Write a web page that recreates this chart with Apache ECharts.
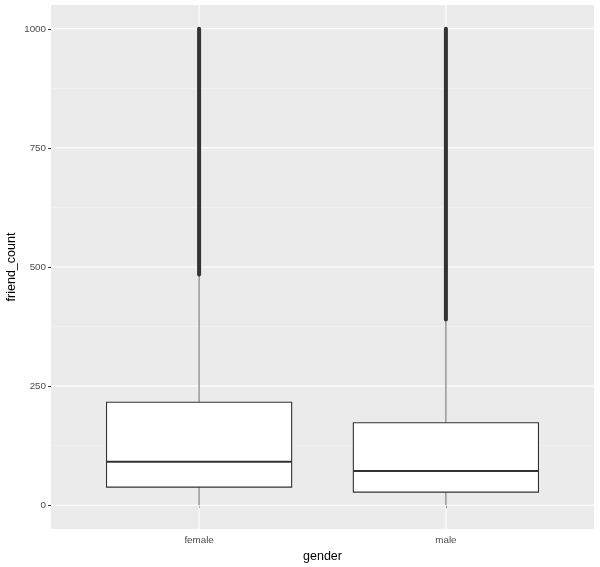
<!DOCTYPE html>
<html>
<head>
<meta charset="utf-8">
<script src="https://cdn.jsdelivr.net/npm/echarts@6/dist/echarts.min.js"></script>
<style>
html,body{margin:0;padding:0;background:#fff;}
#c{width:600px;height:567px;}
</style>
</head>
<body>
<div id="c"></div>
<script>
// categories and box statistics
var categories = ['female', 'male'];
var lowerWhisker = [0, 0];
var q1 = [38, 27.5];
var median = [91, 72];
var q3 = [216, 173];
var upperWhisker = [483, 389];
var outlierMin = [484, 390];
var outlierMax = [1000, 1000];
// axis ticks
var yTicks = [0, 250, 500, 750, 1000];
var yMinor = [125, 375, 625, 875];
var xTicks = [1, 2];

var FONT = 'Liberation Sans, Arial, sans-serif';

var boxData = categories.map(function (c, i) {
  return [i + 1, lowerWhisker[i], q1[i], median[i], q3[i], upperWhisker[i], outlierMin[i], outlierMax[i]];
});

// grid line records: [orientation (0 = horizontal, 1 = vertical), value, major(1)/minor(0)]
var gridData = [];
yTicks.forEach(function (v) { gridData.push([0, v, 1]); });
yMinor.forEach(function (v) { gridData.push([0, v, 0]); });
xTicks.forEach(function (v) { gridData.push([1, v, 1]); });

var chart = echarts.init(document.getElementById('c'), null, { renderer: 'canvas' });
chart.setOption({
  animation: false,
  backgroundColor: '#ffffff',
  grid: {
    left: 51, right: 6, top: 5, bottom: 38,
    containLabel: false, outerBoundsMode: 'none',
    show: true, backgroundColor: '#EBEBEB', borderWidth: 0
  },
  xAxis: {
    type: 'value', min: 0.4, max: 2.6,
    name: 'gender', nameLocation: 'middle', nameGap: 21, nameMoveOverlap: false,
    nameTextStyle: { color: '#000', fontSize: 12.5, fontFamily: FONT },
    axisLine: { show: false },
    splitLine: { show: false },
    axisTick: { show: true, customValues: xTicks, length: 3, lineStyle: { color: '#333333', width: 1 } },
    axisLabel: {
      customValues: xTicks, margin: 6, color: '#4D4D4D', fontSize: 9.8, fontFamily: FONT,
      formatter: function (v) { return categories[Math.round(v) - 1] || ''; }
    }
  },
  yAxis: {
    type: 'value', min: -50, max: 1050,
    name: 'friend_count', nameLocation: 'middle', nameGap: 33, nameMoveOverlap: false,
    nameTextStyle: { color: '#000', fontSize: 12.5, fontFamily: FONT },
    axisLine: { show: false },
    splitLine: { show: false },
    axisTick: { show: true, customValues: yTicks, length: 3, lineStyle: { color: '#333333', width: 1 } },
    axisLabel: {
      customValues: yTicks, margin: 5, color: '#4D4D4D', fontSize: 9.8, fontFamily: FONT,
      formatter: function (v) { return String(v); }
    }
  },
  series: [
    {
      type: 'custom', z: 1, silent: true,
      data: gridData,
      encode: { x: [], y: [] },
      renderItem: function (params, api) {
        var cs = params.coordSys;
        var orient = api.value(0), v = api.value(1), major = api.value(2);
        var style = { stroke: major ? '#ffffff' : '#f5f5f5', lineWidth: major ? 1.1 : 0.6 };
        if (orient === 0) {
          var y = api.coord([1, v])[1];
          return { type: 'line', shape: { x1: cs.x, y1: y, x2: cs.x + cs.width, y2: y }, style: style };
        }
        var x = api.coord([v, 0])[0];
        return { type: 'line', shape: { x1: x, y1: cs.y, x2: x, y2: cs.y + cs.height }, style: style };
      }
    },
    {
      type: 'custom', z: 2, silent: true,
      data: boxData,
      encode: { x: 0, y: [1, 2, 3, 4, 5, 6, 7] },
      renderItem: function (params, api) {
        var x = api.value(0);
        var half = api.size([0.75, 0])[0] / 2;
        var pLow = api.coord([x, api.value(1)]);
        var pQ1 = api.coord([x, api.value(2)]);
        var pMed = api.coord([x, api.value(3)]);
        var pQ3 = api.coord([x, api.value(4)]);
        var pHigh = api.coord([x, api.value(5)]);
        var pOMin = api.coord([x, api.value(6)]);
        var pOMax = api.coord([x, api.value(7)]);
        var cx = pQ1[0];
        return {
          type: 'group',
          children: [
            { type: 'line', shape: { x1: cx, y1: pLow[1], x2: cx, y2: pQ1[1] }, style: { stroke: '#666666', lineWidth: 1 } },
            { type: 'line', shape: { x1: cx, y1: pQ3[1], x2: cx, y2: pHigh[1] }, style: { stroke: '#666666', lineWidth: 1 } },
            { type: 'rect', shape: { x: cx - 2, y: pOMax[1] - 2, width: 4, height: pOMin[1] - pOMax[1] + 4, r: 2 }, style: { fill: '#333333' } },
            { type: 'rect', shape: { x: cx - half, y: pQ3[1], width: half * 2, height: pQ1[1] - pQ3[1] }, style: { fill: '#ffffff', stroke: '#333333', lineWidth: 1.1 } },
            { type: 'line', shape: { x1: cx - half, y1: pMed[1], x2: cx + half, y2: pMed[1] }, style: { stroke: '#333333', lineWidth: 2 } }
          ]
        };
      }
    }
  ]
});
</script>
</body>
</html>
